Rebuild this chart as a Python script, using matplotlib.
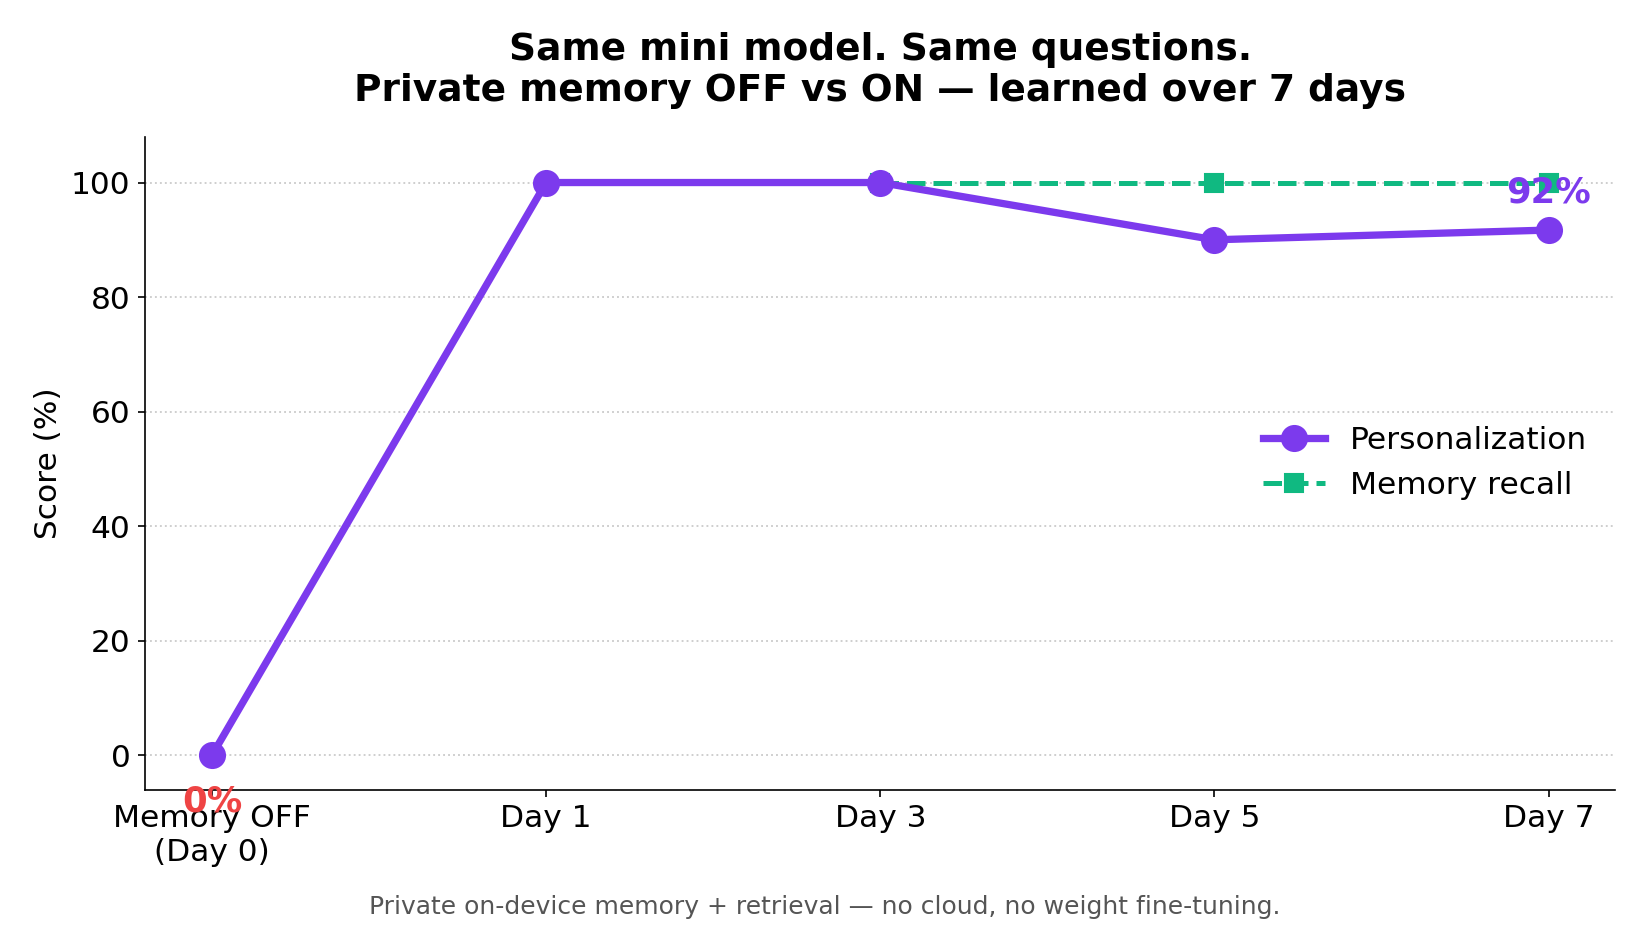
import matplotlib
matplotlib.use('Agg')
import matplotlib.pyplot as plt

stages = ['Memory OFF\n(Day 0)', 'Day 1', 'Day 3', 'Day 5', 'Day 7']
personalization = [0, 100, 100, 90, 91.7]
recall_stages = [2, 3, 4]
memory_recall = [100, 100, 100]

purple = '#7c3aed'
green = '#10b981'
red = '#ef4444'

fig, ax = plt.subplots(figsize=(11, 6.2), dpi=150)
fig.subplots_adjust(left=0.088, right=0.979, top=0.853, bottom=0.151)

x = list(range(len(stages)))
ax.plot(x, personalization, color=purple, lw=3.5, marker='o', ms=12, label='Personalization', zorder=3)
ax.plot(recall_stages, memory_recall, color=green, lw=2.4, ls='--', marker='s', ms=8.5,
        label='Memory recall', zorder=2)

ax.annotate('0%', (0, personalization[0]), xytext=(0, -22), textcoords='offset points',
            ha='center', va='center', color=red, fontsize=17, fontweight='bold')
ax.annotate(f'{round(personalization[-1])}%', (4, personalization[-1]), xytext=(0, 18),
            textcoords='offset points', ha='center', va='center', color=purple,
            fontsize=17, fontweight='bold')

ax.set_xticks(x)
ax.set_xticklabels(stages, fontsize=15)
ax.tick_params(axis='y', labelsize=15)
ax.set_xlim(-0.2, 4.2)
ax.set_ylim(-6, 108)
ax.set_ylabel('Score (%)', fontsize=15)
ax.grid(axis='y', ls=':', color='#cccccc', lw=0.9)
ax.spines['top'].set_visible(False)
ax.spines['right'].set_visible(False)
ax.set_title('Same mini model. Same questions.\nPrivate memory OFF vs ON \u2014 learned over 7 days',
             fontsize=18, fontweight='bold', pad=17)
ax.legend(loc='center right', frameon=False, fontsize=15)

fig.text(0.5, 0.025, 'Private on-device memory + retrieval \u2014 no cloud, no weight fine-tuning.',
         ha='center', va='center', fontsize=12, color='#555555')

plt.savefig('out.png', dpi=150)
